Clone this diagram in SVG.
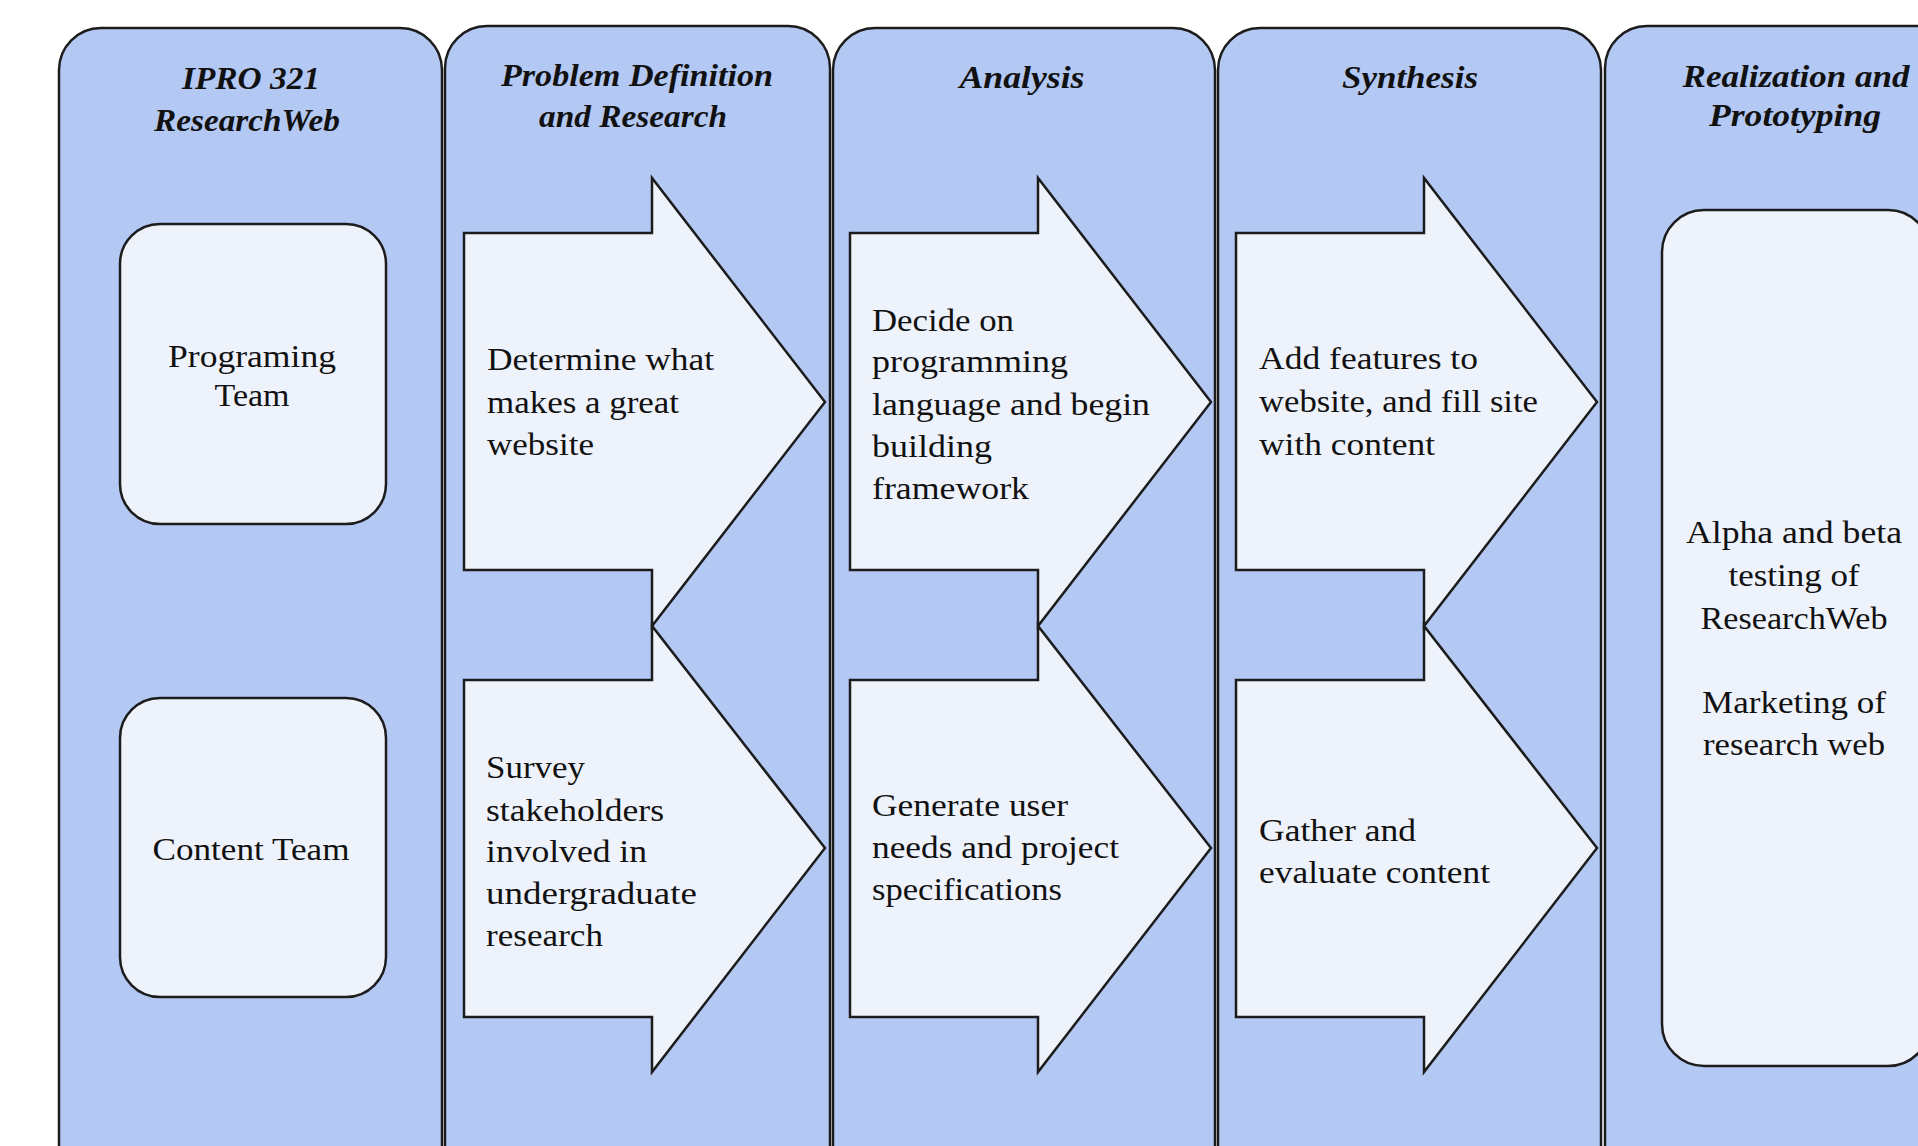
<svg xmlns="http://www.w3.org/2000/svg" width="1918" height="1146" viewBox="0 0 1918 1146">
<style>
.col{fill:#B4C8F4;stroke:#1c1c1c;stroke-width:2.5}
.box{fill:#EEF2FB;stroke:#1c1c1c;stroke-width:2.5}
.arr{fill:#EEF2FB;stroke:#1c1c1c;stroke-width:2.5;stroke-linejoin:miter}
.hd{font-family:"Liberation Serif",serif;font-style:italic;font-weight:bold;font-size:32px;fill:#111;text-anchor:middle}
.tx{font-family:"Liberation Serif",serif;font-size:31px;fill:#111}
.tc{font-family:"Liberation Serif",serif;font-size:31px;fill:#111;text-anchor:middle}
</style>
<rect width="1918" height="1146" fill="#ffffff"/>

<g id="lane-ipro">
<rect class="col" x="59" y="28" width="383" height="1165" rx="42"/>
<text class="hd" x="251" y="89" textLength="138" lengthAdjust="spacingAndGlyphs">IPRO 321</text>
<text class="hd" x="247" y="131" textLength="186" lengthAdjust="spacingAndGlyphs">ResearchWeb</text>
</g>
<g id="lane-problem">
<rect class="col" x="445" y="26" width="385" height="1167" rx="42"/>
<text class="hd" x="637" y="86" textLength="272" lengthAdjust="spacingAndGlyphs">Problem Definition</text>
<text class="hd" x="633" y="127" textLength="188" lengthAdjust="spacingAndGlyphs">and Research</text>
</g>
<g id="lane-analysis">
<rect class="col" x="833" y="28" width="382" height="1165" rx="42"/>
<text class="hd" x="1022" y="88" textLength="125" lengthAdjust="spacingAndGlyphs">Analysis</text>
</g>
<g id="lane-synthesis">
<rect class="col" x="1218" y="28" width="383" height="1165" rx="42"/>
<text class="hd" x="1410" y="88" textLength="136" lengthAdjust="spacingAndGlyphs">Synthesis</text>
</g>
<g id="lane-realization">
<rect class="col" x="1605" y="26" width="383" height="1167" rx="42"/>
<text class="hd" x="1796" y="87" textLength="227" lengthAdjust="spacingAndGlyphs">Realization and</text>
<text class="hd" x="1795" y="126" textLength="172" lengthAdjust="spacingAndGlyphs">Prototyping</text>
</g>

<g id="programing-team">
<rect class="box" x="120" y="224" width="266" height="300" rx="40"/>
<text class="tc" x="252" y="367" textLength="168" lengthAdjust="spacingAndGlyphs">Programing</text>
<text class="tc" x="252" y="406" textLength="75" lengthAdjust="spacingAndGlyphs">Team</text>
</g>
<g id="content-team">
<rect class="box" x="120" y="698" width="266" height="299" rx="40"/>
<text class="tc" x="251" y="860" textLength="197" lengthAdjust="spacingAndGlyphs">Content Team</text>
</g>

<g id="determine">
<polygon class="arr" points="464,233 652,233 652,178 825,402 652,626 652,570 464,570"/>
<text class="tx" x="487" y="370" textLength="227" lengthAdjust="spacingAndGlyphs">Determine what</text>
<text class="tx" x="487" y="413" textLength="192" lengthAdjust="spacingAndGlyphs">makes a great</text>
<text class="tx" x="487" y="455" textLength="107" lengthAdjust="spacingAndGlyphs">website</text>
</g>
<g id="survey">
<polygon class="arr" points="464,680 652,680 652,626 825,848 652,1072 652,1017 464,1017"/>
<text class="tx" x="486" y="778" textLength="99" lengthAdjust="spacingAndGlyphs">Survey</text>
<text class="tx" x="486" y="821" textLength="178" lengthAdjust="spacingAndGlyphs">stakeholders</text>
<text class="tx" x="486" y="862" textLength="161" lengthAdjust="spacingAndGlyphs">involved in</text>
<text class="tx" x="486" y="904" textLength="211" lengthAdjust="spacingAndGlyphs">undergraduate</text>
<text class="tx" x="486" y="946" textLength="117" lengthAdjust="spacingAndGlyphs">research</text>
</g>

<g id="decide">
<polygon class="arr" points="850,233 1038,233 1038,178 1211,402 1038,626 1038,570 850,570"/>
<text class="tx" x="872" y="331" textLength="142" lengthAdjust="spacingAndGlyphs">Decide on</text>
<text class="tx" x="872" y="372" textLength="196" lengthAdjust="spacingAndGlyphs">programming</text>
<text class="tx" x="872" y="415" textLength="278" lengthAdjust="spacingAndGlyphs">language and begin</text>
<text class="tx" x="872" y="457" textLength="120" lengthAdjust="spacingAndGlyphs">building</text>
<text class="tx" x="872" y="499" textLength="157" lengthAdjust="spacingAndGlyphs">framework</text>
</g>
<g id="generate">
<polygon class="arr" points="850,680 1038,680 1038,626 1211,848 1038,1072 1038,1017 850,1017"/>
<text class="tx" x="872" y="816" textLength="196" lengthAdjust="spacingAndGlyphs">Generate user</text>
<text class="tx" x="872" y="858" textLength="247" lengthAdjust="spacingAndGlyphs">needs and project</text>
<text class="tx" x="872" y="900" textLength="190" lengthAdjust="spacingAndGlyphs">specifications</text>
</g>

<g id="add-features">
<polygon class="arr" points="1236,233 1424,233 1424,178 1597,402 1424,626 1424,570 1236,570"/>
<text class="tx" x="1259" y="369" textLength="219" lengthAdjust="spacingAndGlyphs">Add features to</text>
<text class="tx" x="1259" y="412" textLength="279" lengthAdjust="spacingAndGlyphs">website, and fill site</text>
<text class="tx" x="1259" y="455" textLength="176" lengthAdjust="spacingAndGlyphs">with content</text>
</g>
<g id="gather">
<polygon class="arr" points="1236,680 1424,680 1424,626 1597,848 1424,1072 1424,1017 1236,1017"/>
<text class="tx" x="1259" y="841" textLength="157" lengthAdjust="spacingAndGlyphs">Gather and</text>
<text class="tx" x="1259" y="883" textLength="231" lengthAdjust="spacingAndGlyphs">evaluate content</text>
</g>

<g id="testing">
<rect class="box" x="1662" y="210" width="268" height="856" rx="42"/>
<text class="tc" x="1794" y="543" textLength="216" lengthAdjust="spacingAndGlyphs">Alpha and beta</text>
<text class="tc" x="1794" y="586" textLength="131" lengthAdjust="spacingAndGlyphs">testing of</text>
<text class="tc" x="1794" y="629" textLength="187" lengthAdjust="spacingAndGlyphs">ResearchWeb</text>
<text class="tc" x="1794" y="713" textLength="184" lengthAdjust="spacingAndGlyphs">Marketing of</text>
<text class="tc" x="1794" y="755" textLength="182" lengthAdjust="spacingAndGlyphs">research web</text>
</g>

<g id="connectors"></g>
</svg>
